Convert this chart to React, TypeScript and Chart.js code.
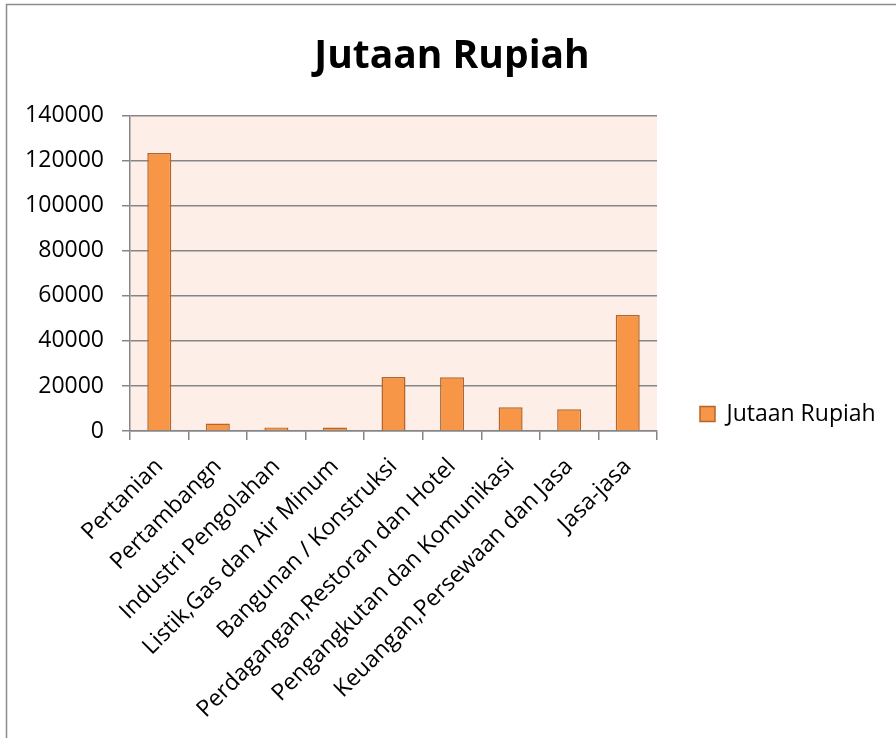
import React, { useEffect, useRef } from "react";
import { Chart, registerables } from "chart.js";

Chart.register(...registerables);

const categories = [
  "Pertanian",
  "Pertambangn",
  "Industri Pengolahan",
  "Listik,Gas dan Air Minum",
  "Bangunan / Konstruksi",
  "Perdagangan,Restoran dan Hotel",
  "Pengangkutan dan Komunikasi",
  "Keuangan,Persewaan dan Jasa",
  "Jasa-jasa",
];
const seriesName = "Jutaan Rupiah";
const values = [123450, 3300, 1600, 1500, 24000, 23900, 10500, 9700, 51500];
const yTicks = [0, 20000, 40000, 60000, 80000, 100000, 120000, 140000];

const FONT = "'Open Sans', sans-serif";
const PAD_LEFT = 8;
const PAD_RIGHT = 0;
const LEGEND_WIDTH = 239;

const framePlugin = {
  id: "frame",
  beforeLayout(chart: any) {
    const lg = chart.legend;
    if (lg && !lg.__fixedWidth) {
      const orig = lg.fit.bind(lg);
      lg.fit = function () {
        orig();
        this.width = LEGEND_WIDTH;
      };
      lg.__fixedWidth = true;
    }
  },
  beforeDraw(chart: any) {
    const { ctx, chartArea } = chart;
    ctx.save();
    ctx.fillStyle = "#ffffff";
    ctx.fillRect(0, 0, chart.width, chart.height);
    ctx.strokeStyle = "#8c8c8c";
    ctx.lineWidth = 1.5;
    ctx.strokeRect(6.5, 4.5, chart.width + 20, chart.height + 20);
    ctx.fillStyle = "#FDEEE8";
    ctx.fillRect(chartArea.left, chartArea.top, chartArea.right - chartArea.left, chartArea.bottom - chartArea.top);
    ctx.restore();
  },
};

export default function App() {
  const ref = useRef<HTMLCanvasElement | null>(null);
  useEffect(() => {
    if (!ref.current) return;
    const chart = new Chart(ref.current, {
      type: "bar",
      data: {
        labels: categories,
        datasets: [
          {
            label: seriesName,
            data: values,
            backgroundColor: "#F79646",
            borderColor: "#B5652B",
            borderWidth: 1.5,
            barPercentage: 0.41,
            categoryPercentage: 1,
          },
        ],
      },
      options: {
        responsive: false,
        animation: false,
        layout: { padding: { left: PAD_LEFT, right: PAD_RIGHT, top: 0, bottom: 0 } },
        plugins: {
          title: {
            display: true,
            text: "Jutaan Rupiah",
            color: "#000",
            font: { family: FONT, size: 39, weight: "bold" },
            padding: { top: 33, bottom: 36 },
          },
          legend: {
            position: "right",
            title: {
              display: true,
              text: " ",
              font: { family: FONT, size: 10, lineHeight: 1 },
              padding: 40,
            },
            labels: {
              color: "#000",
              font: { family: FONT, size: 23 },
              boxWidth: 15,
              boxHeight: 15,
              padding: 43,
            },
          },
          tooltip: { enabled: false },
        },
        scales: {
          x: {
            grid: {
              drawOnChartArea: false,
              drawTicks: true,
              tickLength: 9,
              color: "#868686",
              lineWidth: 1.5,
              offset: true,
            },
            border: { display: true, color: "#868686", width: 1.5 },
            ticks: {
              autoSkip: false,
              maxRotation: 45,
              minRotation: 45,
              color: "#000",
              font: { family: FONT, size: 23 },
              padding: 13,
            },
            afterFit(scale: any) {
              scale.height = 738 - 431;
            },
          },
          y: {
            min: 0,
            max: 140000,
            afterBuildTicks(scale: any) {
              scale.ticks = yTicks.map((v) => ({ value: v }));
            },
            grid: {
              color: "#868686",
              lineWidth: 1.5,
              tickLength: 8,
              drawTicks: true,
            },
            border: { display: true, color: "#868686", width: 1.5 },
            ticks: {
              color: "#000",
              font: { family: FONT, size: 23 },
              padding: 18,
              callback: (v: any) => String(v),
            },
            afterFit(scale: any) {
              scale.width = 130 - PAD_LEFT;
            },
          },
        },
      },
      plugins: [framePlugin],
    });
    return () => chart.destroy();
  }, []);
  return (
    <div style={{ position: "fixed", left: 0, top: 0, width: 896, height: 738 }}>
      <canvas ref={ref} width={896} height={738} style={{ display: "block" }} />
    </div>
  );
}
